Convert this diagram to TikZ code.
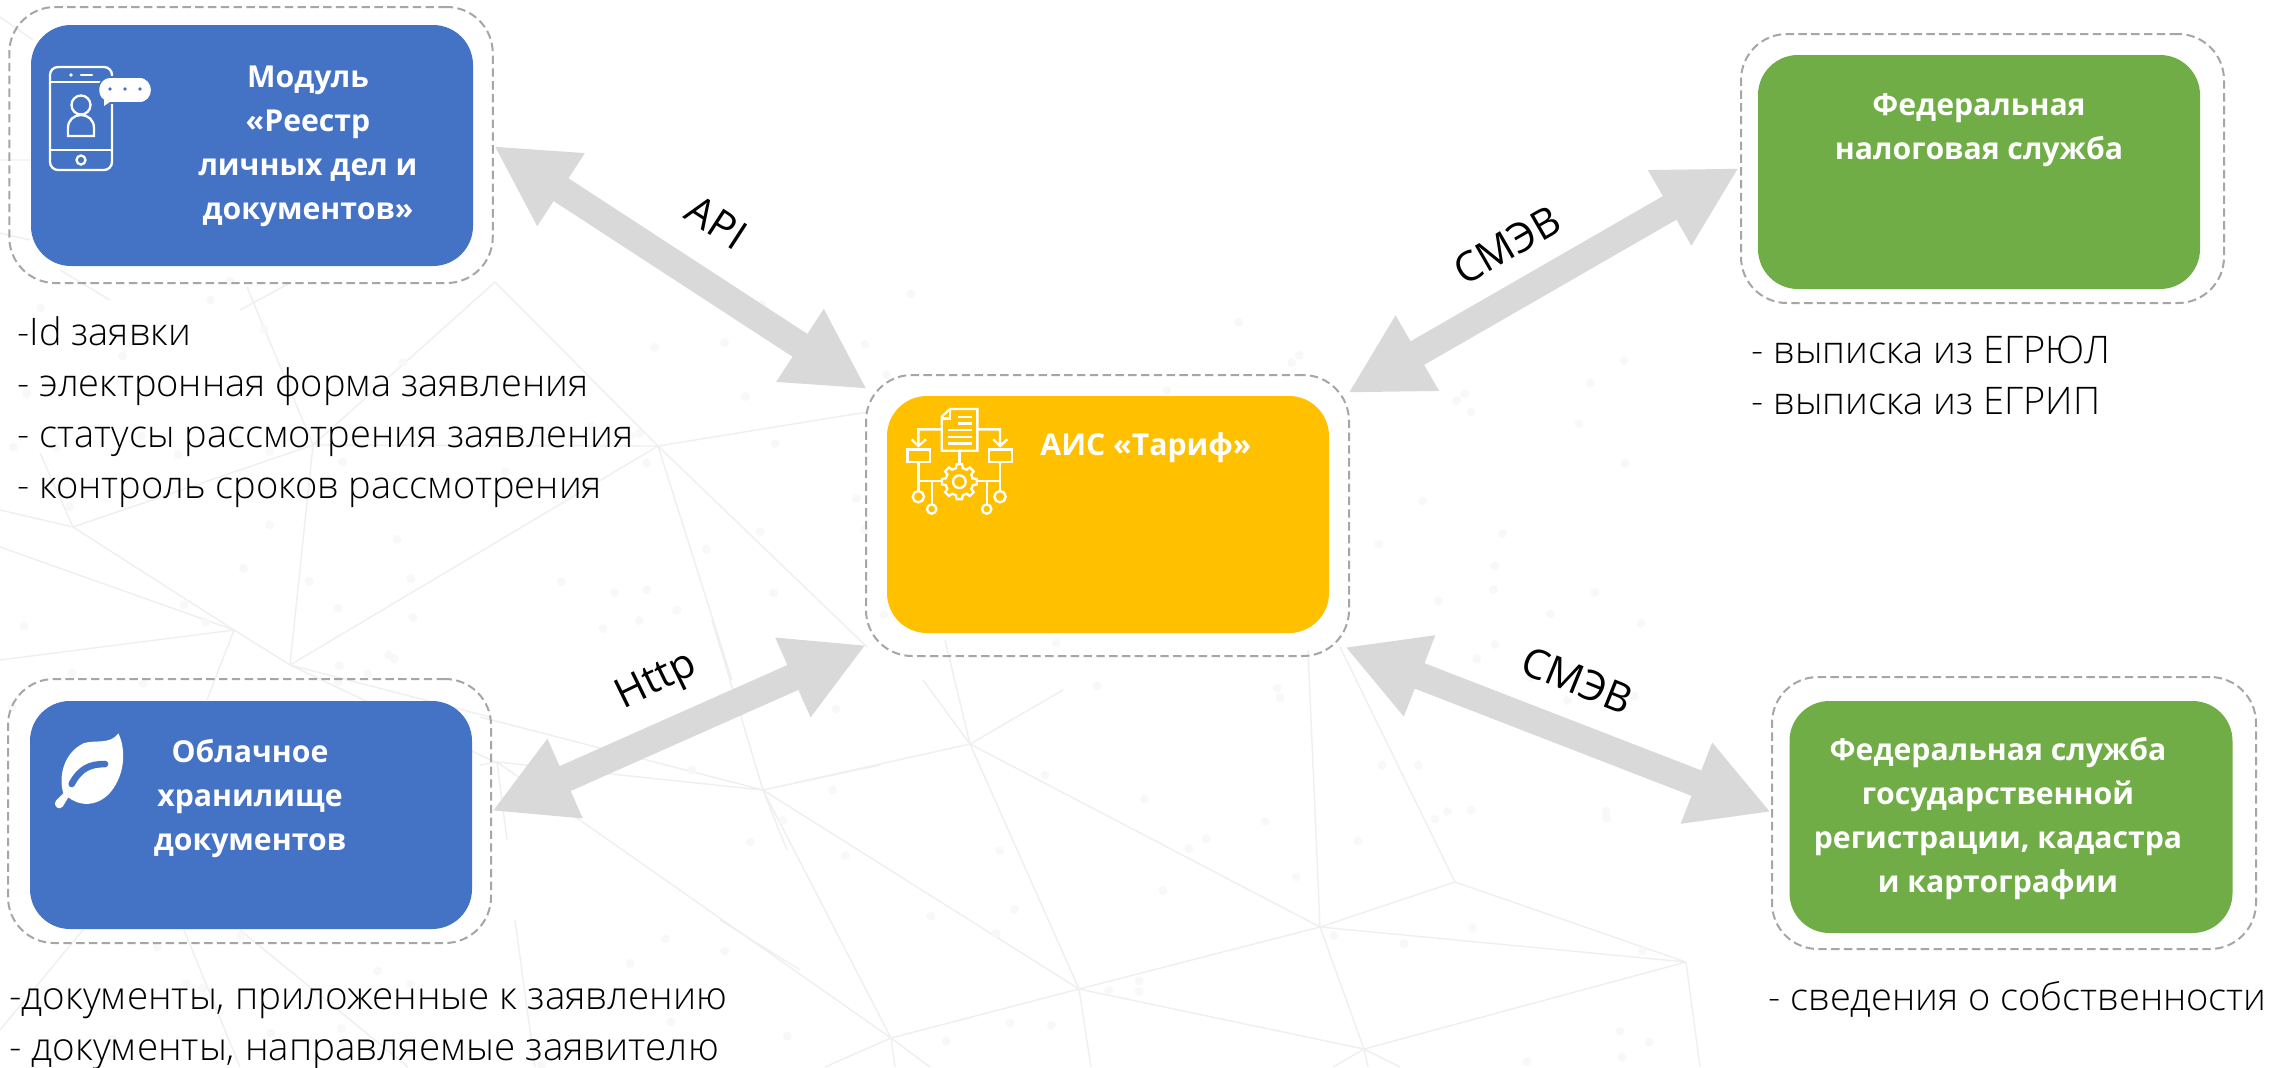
\documentclass[tikz,border=0pt]{standalone}
\usepackage{fontspec}
\setmainfont{Open Sans}
\newfontfamily\lightf{Open Sans Light}
\usetikzlibrary{arrows.meta}
\definecolor{cblue}{HTML}{4472C4}
\definecolor{cyellow}{HTML}{FFC000}
\definecolor{cgreen}{HTML}{70AD47}
\definecolor{carrow}{HTML}{D9D9D9}
\definecolor{cdash}{HTML}{A6A6A6}
\definecolor{cmesh}{HTML}{EFEFEF}
\definecolor{cdot}{HTML}{F8F8F8}
\tikzset{
  solidbox/.style={rounded corners=20pt,inner sep=0pt,outer sep=0pt,draw=none},
  groupbox/.style={rounded corners=23pt,inner sep=0pt,outer sep=0pt,draw=cdash,line width=1pt,dash pattern=on 4.2pt off 2.2pt},
  twoway/.style={draw=carrow,line width=13.6pt,{Triangle[length=40pt,width=40.5pt]}-{Triangle[length=40pt,width=40.5pt]}},
  boxtext/.style={text=white,inner sep=0pt,align=center,font=\bfseries\fontsize{15.1}{22}\selectfont},
  bodytext/.style={text=black,inner sep=0pt,align=left,font=\lightf\fontsize{19}{25.5}\selectfont},
  linktext/.style={text=black,inner sep=0pt,font=\fontsize{20.5}{22}\selectfont},
  mesh/.style={draw=cmesh,line width=0.7pt},
  icon/.style={draw=white,line width=1.15pt,fill=none},
}
\begin{document}
\begin{tikzpicture}[x=0.5pt,y=-0.5pt]
\useasboundingbox (0,0) rectangle (2288,1067);
\fill[white] (0,0) rectangle (2288,1067);
% background mesh
\draw[mesh]
 (763,790)--(970,744) (970,744)--(1320,927) (763,790)--(1079,989) (763,790)--(891,1038) (970,744)--(1079,989)
 (1320,927)--(1455,882) (1455,882)--(1686,962) (1320,927)--(1686,962) (1320,927)--(1079,989) (1320,927)--(1364,1049)
 (1079,989)--(1364,1049) (1686,962)--(1364,1049) (1079,989)--(891,1038) (497,762)--(891,1038)
 (1455,882)--(1340,647) (1320,927)--(1308,650) (970,744)--(923,680) (970,744)--(945,640) (970,744)--(1063,690)
 (763,790)--(712,620) (763,790)--(480,717) (763,790)--(497,762) (1079,989)--(1091,1067) (891,1038)--(895,1067)
 (891,1038)--(930,1067) (891,1038)--(825,1067) (1364,1049)--(1333,1067) (1364,1049)--(1400,1067) (1364,1049)--(1368,1067)
 (1686,962)--(1700,1067) (763,790)--(787,850) (763,790)--(880,765)
 (495,282)--(658,446) (313,445)--(495,282) (313,445)--(658,446) (658,446)--(867,412) (658,446)--(290,665)
 (658,446)--(867,647) (658,446)--(732,680) (313,445)--(290,665) (40,453)--(73,527) (73,527)--(0,510) (73,527)--(234,630)
 (73,527)--(313,445) (0,547)--(234,630) (234,630)--(290,665) (234,630)--(0,660) (234,630)--(207,700) (290,665)--(490,717)
 (290,665)--(497,763) (247,287)--(313,445) (497,762)--(507,840) (497,762)--(480,765)
 (83,930)--(0,1030) (184,930)--(240,1067) (240,930)--(408,1067) (515,920)--(535,1067) (720,920)--(800,970)
 (0,17)--(33,40) (0,160)--(30,160) (0,233)--(30,240) (60,270)--(110,300) (290,283)--(240,310);
\pgfmathsetseed{42}
\foreach \i in {1,...,170}{
  \pgfmathsetmacro{\dx}{rnd*1650}
  \pgfmathsetmacro{\dy}{280+rnd*787}
  \fill[cdot] (\dx,\dy) circle[radius=2.2pt];
}
% named ends of the connectors
\coordinate (apiA) at (494,146);
\coordinate (apiB) at (867,389);
\coordinate (smevA) at (1348,393);
\coordinate (smevB) at (1739,168);
\coordinate (httpA) at (492,811);
\coordinate (httpB) at (866,645);
\coordinate (smevC) at (1345,647);
\coordinate (smevD) at (1771,812);
\draw[twoway] (apiA)--(apiB);
\draw[twoway] (smevA)--(smevB);
\draw[twoway] (httpA)--(httpB);
\draw[twoway] (smevC)--(smevD);
% group frames
\node[groupbox,minimum width=241.75pt,minimum height=138pt] (modg) at (251,145) {};
\node[groupbox,minimum width=241.5pt,minimum height=140.5pt] (aisg) at (1107.5,515.5) {};
\node[groupbox,minimum width=241.5pt,minimum height=132pt] (cldg) at (249.5,811) {};
\node[groupbox,minimum width=241.5pt,minimum height=134.5pt] (fnsg) at (1982.5,168.5) {};
\node[groupbox,minimum width=242pt,minimum height=136pt] (rosg) at (2014,813) {};
% solid boxes
\node[solidbox,fill=cblue,minimum width=221pt,minimum height=120.5pt] (mod) at (252,145.5) {};
\node[solidbox,fill=cyellow,minimum width=221pt,minimum height=118.5pt] (ais) at (1108,514.5) {};
\node[solidbox,fill=cblue,minimum width=221pt,minimum height=114pt] (cld) at (251,815) {};
\node[solidbox,fill=cgreen,minimum width=221pt,minimum height=117pt] (fns) at (1979,172) {};
\node[solidbox,fill=cgreen,minimum width=221.5pt,minimum height=116pt] (ros) at (2011,817) {};
% box texts
\node[boxtext] (modt) at (308,146) {Модуль\\«Реестр\\личных дел и\\документов»};
\node[boxtext] (aist) at (1146,448) {АИС «Тариф»};
\node[boxtext] (cldt) at (250,799) {Облачное\\хранилище\\документов};
\node[boxtext] (fnst) at (1979,130) {Федеральная\\налоговая служба};
\node[boxtext] (rost) at (1998,819) {Федеральная служба\\государственной\\регистрации, кадастра\\и картографии};
% side texts
\node[bodytext,anchor=north west] (modl) at (17,316) {-Id заявки\\- электронная форма заявления\\- статусы рассмотрения заявления\\- контроль сроков рассмотрения};
\node[bodytext,anchor=north west,font=\lightf\fontsize{19.3}{25.5}\selectfont] (cldl) at (9,988) {-документы, приложенные к заявлению\\- документы, направляемые заявителю};
\node[bodytext,anchor=north west] (fnsl) at (1751,336) {- выписка из ЕГРЮЛ\\- выписка из ЕГРИП};
\node[bodytext,anchor=north west] (rosl) at (1768,981) {- сведения о собственности};
% connector labels
\node[linktext,rotate=-33] (apil) at (717,222) {API};
\node[linktext,rotate=30] (smev1) at (1507,245) {СМЭВ};
\node[linktext,rotate=26] (httpl) at (657,682) {Http};
\node[linktext,rotate=-22] (smev2) at (1577,680) {СМЭВ};
% phone icon
\draw[icon,rounded corners=4pt] (50,67) rectangle (112,170);
\draw[icon] (50,82)--(112,82) (50,150)--(112,150);
\fill[white] (71,75) circle[radius=1.8];
\draw[icon,line cap=round] (81,75)--(92,75);
\draw[icon] (81,160) circle[radius=4.5];
\draw[icon] (81,105) circle[radius=9.5];
\draw[icon] (68,136)--(68,128) .. controls (68,120) and (74,115) .. (81,115) .. controls (88,115) and (94,120) .. (94,128) -- (94,136) -- cycle;
\fill[white,draw=cblue,line width=0.8pt] (103,108) -- (103,100) .. controls (96,96) and (96,78) .. (110,77) -- (139,77) .. controls (156,77) and (156,103) .. (139,103) -- (110,103) -- cycle;
\fill[cblue] (110,89) circle[radius=1.9] (125,89) circle[radius=1.9] (140,89) circle[radius=1.9];
% flow icon
\begin{scope}[shift={(850,360)},x=0.1667pt,y=-0.1667pt,line join=miter]
\draw[icon] (275,170)--(300,147)--(382,147)--(382,272)--(275,272)--cycle;
\draw[icon] (300,147)--(300,175)--(275,175);
\draw[icon] (325,170)--(365,170) (325,190)--(365,190) (295,210)--(365,210) (295,230)--(365,230) (295,250)--(365,250);
\draw[icon] (275,208)--(205,208)--(205,258) (185,238)--(205,258)--(228,238);
\draw[icon] (382,208)--(450,208)--(450,258) (430,238)--(450,258)--(472,238);
\draw[icon] (172,268) rectangle (240,305) (417,268) rectangle (485,305);
\draw[icon] (205,305)--(205,395) (450,305)--(450,395) (205,362)--(275,362) (380,362)--(450,362) (245,362)--(245,432) (410,362)--(410,432) (328,272)--(328,312);
\draw[icon] (205,410) circle[radius=17] (450,410) circle[radius=17] (245,447) circle[radius=14] (410,447) circle[radius=14];
\begin{scope}[shift={(328,365)}]
\draw[icon] (-14:40) \foreach \a in {0,45,...,315}{ -- (\a-14:42) -- (\a-9:53) -- (\a+9:53) -- (\a+14:42) } -- cycle;
\draw[icon] (0,0) circle[radius=19];
\end{scope}
\end{scope}
% leaf icon
\begin{scope}[shift={(0,660)},x=0.1667pt,y=-0.1667pt]
\fill[white] (355,220) .. controls (375,260) and (378,330) .. (340,385) .. controls (312,428) and (255,450) .. (205,412)
 -- (188,440) .. controls (178,452) and (158,440) .. (168,422) -- (190,400)
 .. controls (175,350) and (190,280) .. (250,250) .. controls (285,238) and (330,255) .. (355,220) -- cycle;
\draw[cblue,line width=3.3pt,line cap=round] (215,372) .. controls (240,325) and (270,312) .. (315,312);
\end{scope}
\end{tikzpicture}
\end{document}
